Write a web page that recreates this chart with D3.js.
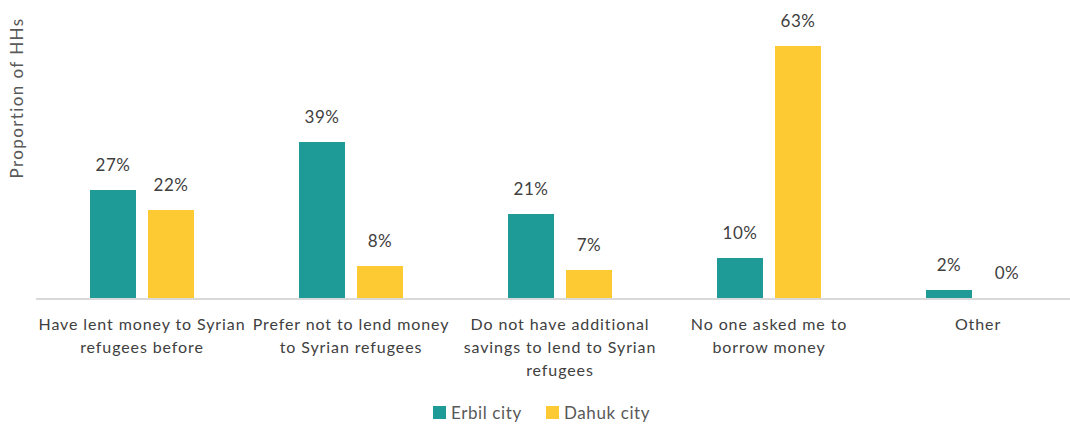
<!DOCTYPE html>
<html>
<head>
<meta charset="utf-8">
<script src="https://cdn.jsdelivr.net/npm/d3@7"></script>
<style>
	body { margin: 0; background: #fff; }
	text { font-family: Lato, "Open Sans", sans-serif; }
</style>
</head>
<body>
<div id="chart"></div>
<script>
var categories = [
	["Have lent money to Syrian", "refugees before"],
	["Prefer not to lend money", "to Syrian refugees"],
	["Do not have additional", "savings to lend to Syrian", "refugees"],
	["No one asked me to", "borrow money"],
	["Other"]
];
var seriesNames = ["Erbil city", "Dahuk city"];
var erbil = [27, 39, 21, 10, 2];
var dahuk = [22, 8, 7, 63, 0];
var colors = ["#1e9a97", "#fdca33"];

var width = 1070, height = 425;
var svg = d3.select("#chart").append("svg")
	.attr("width", width)
	.attr("height", height);

var x0 = d3.scaleBand()
	.domain(d3.range(categories.length))
	.range([37.5, 1082.5]);

// two bars of 46px with a 12px gap, centred in each band
var x1 = d3.scaleBand()
	.domain([0, 1])
	.range([x0.bandwidth() / 2 - 52, x0.bandwidth() / 2 + 52])
	.paddingInner(12 / 58);

var y = d3.scaleLinear()
	.domain([0, 70])
	.range([298, 18]);

// baseline
svg.append("line")
	.attr("x1", 36).attr("x2", width)
	.attr("y1", y(0) + 1).attr("y2", y(0) + 1)
	.attr("stroke", "#d9d9d9")
	.attr("stroke-width", 2);

var rows = categories.map(function(c, i) { return [erbil[i], dahuk[i]]; });

var groups = svg.append("g").selectAll("g")
	.data(rows)
	.enter().append("g")
	.attr("transform", function(d, i) { return "translate(" + x0(i) + ",0)"; });

groups.selectAll("rect")
	.data(function(d) { return d; })
	.enter().append("rect")
	.attr("x", function(d, j) { return x1(j); })
	.attr("width", x1.bandwidth())
	.attr("y", function(d) { return y(d); })
	.attr("height", function(d) { return y(0) - y(d); })
	.attr("fill", function(d, j) { return colors[j]; });

groups.selectAll("text.val")
	.data(function(d) { return d; })
	.enter().append("text")
	.classed("val", true)
	.attr("x", function(d, j) { return x1(j) + x1.bandwidth() / 2; })
	.attr("y", function(d) { return y(d) - 19; })
	.attr("text-anchor", "middle")
	.attr("font-size", 17)
	.attr("letter-spacing", 0.6)
	.attr("fill", "#404040")
	.text(function(d) { return d + "%"; });

// category labels
var catLabels = svg.append("g").selectAll("text")
	.data(categories)
	.enter().append("text")
	.attr("x", function(d, i) { return x0(i) + x0.bandwidth() / 2; })
	.attr("y", 330)
	.attr("text-anchor", "middle")
	.attr("font-size", 16)
	.attr("letter-spacing", 0.9)
	.attr("fill", "#404040");

catLabels.each(function(d) {
	var t = d3.select(this);
	for (var i = 0; i < d.length; i++) {
		t.append("tspan")
			.attr("x", t.attr("x"))
			.attr("dy", i == 0 ? 0 : 23)
			.text(d[i]);
	}
});

// y axis title
svg.append("text")
	.attr("transform", "translate(23,98) rotate(-90)")
	.attr("text-anchor", "middle")
	.attr("font-size", 17)
	.attr("letter-spacing", 1.4)
	.attr("fill", "#595959")
	.text("Proportion of HHs");

// legend
var legend = svg.append("g").attr("transform", "translate(433,406)");
var lx = [0, 113];
seriesNames.forEach(function(name, i) {
	legend.append("rect")
		.attr("x", lx[i]).attr("y", 0)
		.attr("width", 13).attr("height", 13)
		.attr("fill", colors[i]);
	legend.append("text")
		.attr("x", lx[i] + 18).attr("y", 13)
		.attr("font-size", 17)
		.attr("letter-spacing", 0.6)
		.attr("fill", "#595959")
		.text(name);
});
</script>
</body>
</html>
